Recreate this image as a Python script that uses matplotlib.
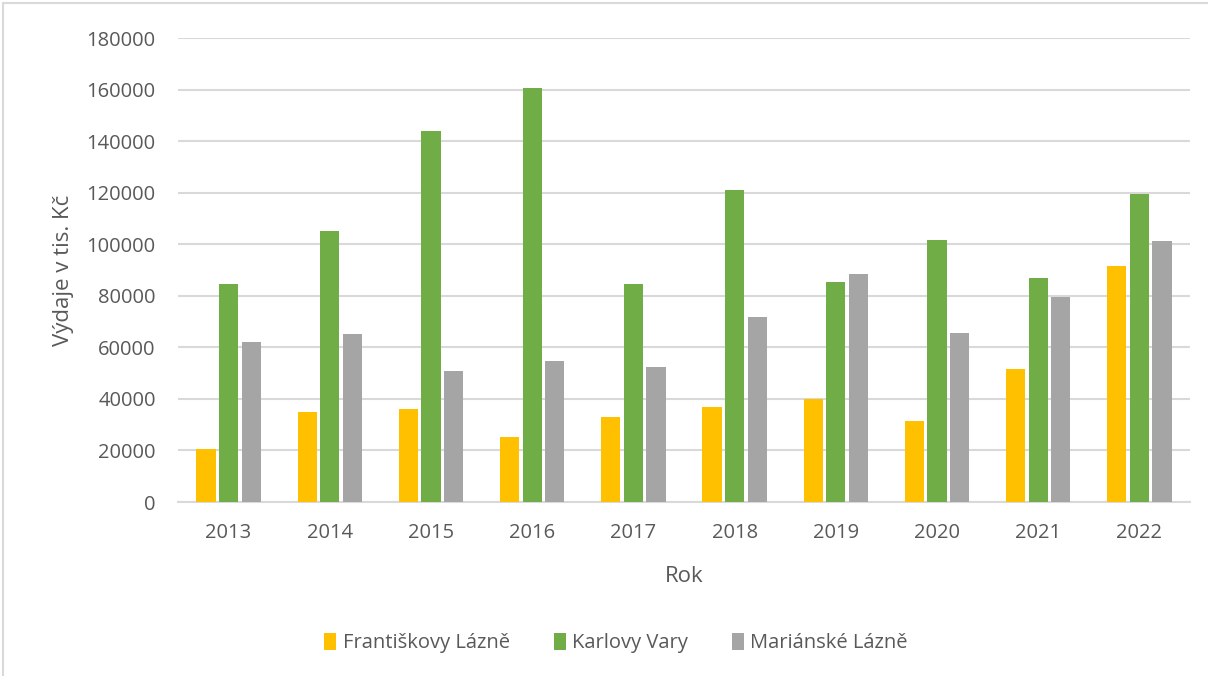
import matplotlib

matplotlib.use("Agg", force=True)

import matplotlib.pyplot as plt
import numpy as np
from matplotlib.patches import Rectangle

years = ["2013", "2014", "2015", "2016", "2017", "2018", "2019", "2020", "2021", "2022"]
frantiskovy = [20600, 35100, 36100, 25100, 32800, 37000, 40000, 31300, 51500, 91700]
karlovy = [84700, 105000, 143800, 160700, 84500, 120900, 85400, 101500, 87000, 119600]
marianske = [61900, 65100, 50900, 54800, 52200, 71700, 88500, 65400, 79400, 101400]

series_names = ["Františkovy Lázně", "Karlovy Vary", "Mariánské Lázně"]
series_values = [frantiskovy, karlovy, marianske]
series_colors = ["#FFC000", "#70AD47", "#A5A5A5"]

TEXT = "#595959"
GRID = "#D9D9D9"

plt.rcParams["font.family"] = ["Open Sans", "DejaVu Sans"]

W, H = 1208, 676
fig = plt.figure(figsize=(W / 100, H / 100), dpi=100)
fig.patch.set_facecolor("white")

# outer chart border (only left/top visible in the reference)
fig.patches.append(
    Rectangle((3 / W, -0.1), 1.2, 1.1 - 3 / H, transform=fig.transFigure,
              fill=False, edgecolor=GRID, linewidth=1.5)
)

ax = fig.add_axes([178 / W, 1 - 502 / H, (1190 - 178) / W, (502 - 38) / H])

x = np.arange(len(years))
bar_w = 0.19
step = 0.223
for i, (name, vals, col) in enumerate(zip(series_names, series_values, series_colors)):
    ax.bar(x + (i - 1) * step, vals, width=bar_w, color=col, label=name, zorder=3)

ax.set_xlim(-0.5, len(years) - 0.5)
ax.set_ylim(0, 180000)
ax.set_yticks(np.arange(0, 180001, 20000))
ax.set_yticklabels([str(v) for v in range(0, 180001, 20000)])
ax.set_xticks(x)
ax.set_xticklabels(years)

ax.grid(axis="y", color=GRID, linewidth=1.5, zorder=0)
ax.set_axisbelow(True)
for side in ["top", "right", "left"]:
    ax.spines[side].set_visible(False)
ax.spines["bottom"].set_color(GRID)
ax.spines["bottom"].set_linewidth(1.5)
ax.tick_params(axis="both", length=0, labelsize=14.5, colors=TEXT)
ax.tick_params(axis="y", pad=16)
ax.tick_params(axis="x", pad=15)

ax.set_xlabel("Rok", fontsize=16, color=TEXT, labelpad=17)
ax.set_ylabel("Výdaje v tis. Kč", fontsize=16, color=TEXT, labelpad=9)

leg = fig.legend(loc="center", bbox_to_anchor=(0.51, 1 - 643 / H), ncol=3, frameon=False,
                 fontsize=14.5, handlelength=0.6, handleheight=0.9, handletextpad=0.3,
                 columnspacing=2.2)
for t in leg.get_texts():
    t.set_color(TEXT)

fig.savefig("out.png", dpi=100, facecolor="white")
